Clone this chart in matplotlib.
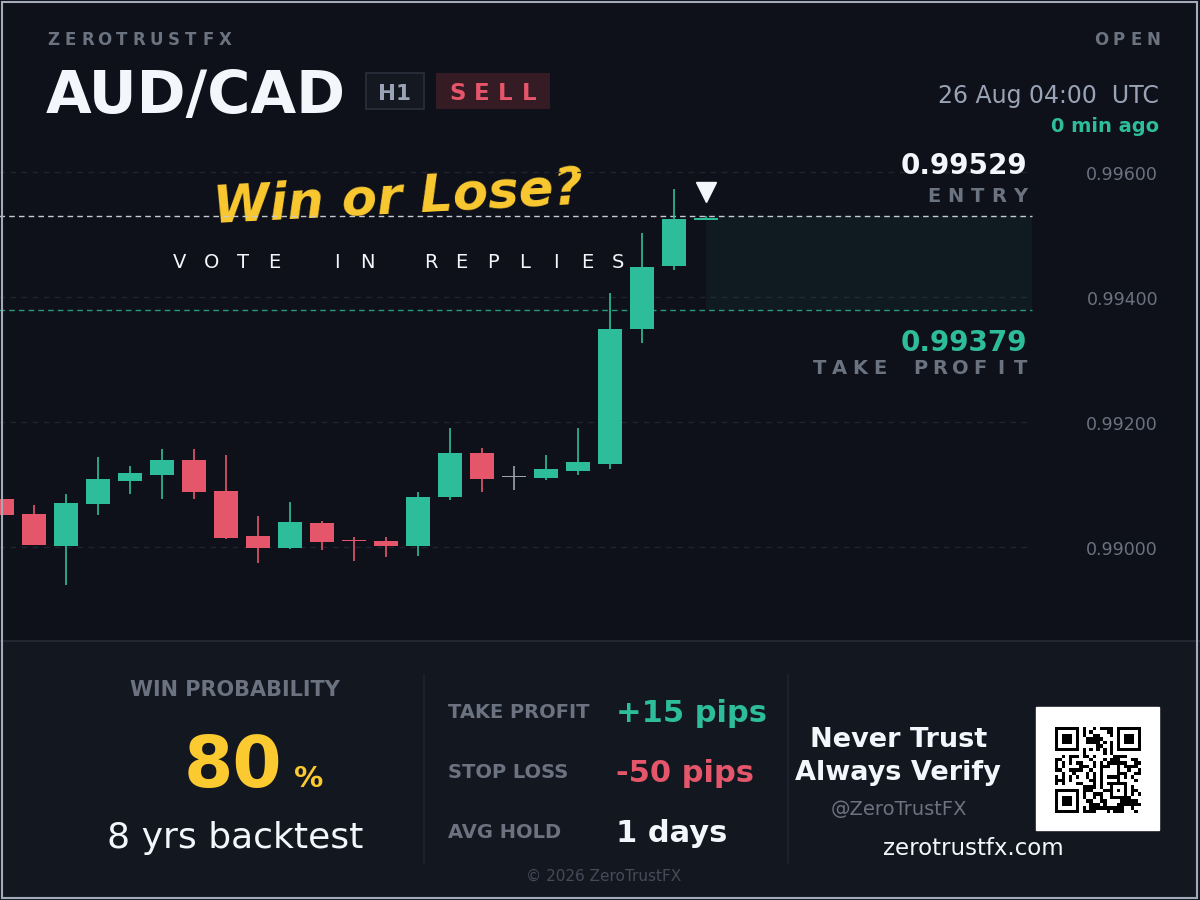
import numpy as np
import matplotlib.pyplot as plt
from matplotlib.patches import Rectangle
from matplotlib.transforms import offset_copy

# AUD/CAD H1 candles, oldest first
opens  = [0.99077, 0.99053, 0.99002, 0.99069, 0.99106, 0.99115, 0.99139, 0.99090,
          0.99018, 0.98998, 0.99038, 0.99010, 0.99010, 0.99002, 0.99080, 0.99150,
          0.99112, 0.99110, 0.99122, 0.99133, 0.99349, 0.99450, 0.99524]
highs  = [0.99077, 0.99067, 0.99085, 0.99144, 0.99130, 0.99157, 0.99157, 0.99147,
          0.99050, 0.99072, 0.99042, 0.99016, 0.99016, 0.99088, 0.99190, 0.99158,
          0.99130, 0.99147, 0.99190, 0.99406, 0.99502, 0.99573, 0.99530]
lows   = [0.99051, 0.99003, 0.98939, 0.99051, 0.99085, 0.99077, 0.99077, 0.99013,
          0.98974, 0.98997, 0.98995, 0.98978, 0.98984, 0.98986, 0.99075, 0.99088,
          0.99091, 0.99107, 0.99115, 0.99125, 0.99326, 0.99443, 0.99524]
closes = [0.99051, 0.99003, 0.99070, 0.99109, 0.99118, 0.99139, 0.99088, 0.99014,
          0.98998, 0.99040, 0.99008, 0.99009, 0.99002, 0.99080, 0.99150, 0.99109,
          0.99112, 0.99125, 0.99136, 0.99349, 0.99448, 0.99525, 0.99525]

entry_price = 0.99529
tp_price = 0.99379
price_ticks = [0.99000, 0.99200, 0.99400, 0.99600]

pair = "AUD/CAD"
timeframe = "H1"
side = "SELL"
stamp = "26 Aug 04:00  UTC"
age = "0 min ago"
win_prob = "80"
backtest = "8 yrs backtest"
stat_labels = ["TAKE PROFIT", "STOP LOSS", "AVG HOLD"]
stat_values = ["+15 pips", "-50 pips", "1 days"]

BG = "#0e1119"
BG2 = "#131720"
TEAL = "#2ebd9b"
RED = "#e5566b"
GREY = "#6b7280"
LIGHT = "#9aa3b5"
WHITE = "#f3f6fb"
YELLOW = "#fbc930"
DOJI = "#9ca3af"

plt.rcParams['font.family'] = ['DejaVu Sans']

fig = plt.figure(figsize=(12, 9), dpi=100, facecolor=BG)

# full-figure axes in pixel coordinates for the card layout
bg = fig.add_axes([0, 0, 1, 1], zorder=0)
bg.set_xlim(0, 1200)
bg.set_ylim(900, 0)
bg.axis("off")


def spaced(ax, x, y, s, step, align="left", **kw):
    # letter-spaced text; x is the centre of the first (or last) glyph
    x0 = x if align == "left" else x - step * (len(s) - 1)
    for k, ch in enumerate(s):
        if ch != " ":
            ax.text(x0 + k * step, y, ch, ha="center", va="baseline", **kw)


# bottom panel
bg.add_patch(Rectangle((0, 641), 1200, 260, color=BG2, zorder=0))
bg.plot([0, 1200], [641, 641], color="#262b36", lw=1.2, zorder=1)
for xd in [424, 788]:
    bg.plot([xd, xd], [675, 863], color="#1f2430", lw=1.2)

# header
spaced(bg, 53, 45, "ZEROTRUSTFX", 17.2, color=GREY, fontsize=12, fontweight="bold")
spaced(bg, 1153, 45, "OPEN", 17.3, align="right", color=GREY, fontsize=12, fontweight="bold")
bg.text(46, 113, pair, color=WHITE, fontsize=42.5, fontweight="bold", va="baseline")
bg.add_patch(Rectangle((366, 73), 58, 36, facecolor="#141820", edgecolor="#2a303c", lw=1.2))
bg.text(395, 100, timeframe, color=LIGHT, fontsize=15.5, fontweight="bold",
        ha="center", va="baseline")
bg.add_patch(Rectangle((436, 73), 114, 36, facecolor="#351b24", edgecolor="none"))
spaced(bg, 458, 100, side, 23.7, color=RED, fontsize=16.5, fontweight="bold")
bg.text(1159, 103, stamp, color=LIGHT, fontsize=17, ha="right", va="baseline")
bg.text(1159, 132, age, color=TEAL, fontsize=14, fontweight="bold", ha="right", va="baseline")

# chart
ax = fig.add_axes([0, 260 / 900, 1, 500 / 900], zorder=1)
ax.patch.set_alpha(0)
for sp in ax.spines.values():
    sp.set_visible(False)
ax.set_xticks([])
ax.set_yticks([])
ax.set_xlim(-2 / 32, 1198 / 32)
ax.set_ylim(0.996 - 468 / 62500, 0.996 + 32 / 62500)

x = np.arange(len(opens))
right_edge = 1030 / 32

ax.hlines(price_ticks, -1, right_edge, colors="#1f2430", lw=1, linestyles=(0, (4, 4)), zorder=1)
for p in price_ticks:
    ax.annotate(f"{p:.5f}", (1158 / 32 - 0.06, p), xytext=(0, -3), textcoords="offset pixels",
                color=GREY, fontsize=12.5, ha="right", va="center")

# trade zone
ax.add_patch(Rectangle((x[-1], tp_price), right_edge - x[-1], entry_price - tp_price,
                       facecolor=TEAL, alpha=0.06, edgecolor="none", zorder=1))
ax.hlines(entry_price, -1, right_edge, colors="#c5cad3", lw=1, linestyles=(0, (4, 3)), zorder=2)
ax.hlines(tp_price, -1, right_edge, colors=TEAL, lw=1, linestyles=(0, (4, 3)), alpha=0.8, zorder=2)

for i in x:
    o, h, l, c = opens[i], highs[i], lows[i], closes[i]
    if c > o:
        col = TEAL
    elif c < o:
        col = RED
    else:
        col = DOJI
    ax.vlines(i, l, h, color=col, lw=1.2, zorder=3)
    body = max(abs(c - o), 0.000022)
    ax.bar(i, body, bottom=min(o, c), width=0.72, color=col, zorder=4)

# sell marker above the live candle
tr = offset_copy(ax.transData, fig=fig, y=24, units="dots")
ax.plot(x[-1], highs[-1], marker="v", markersize=15, color=WHITE, transform=tr, zorder=5,
        linestyle="none")

# entry / target labels
ax.annotate(f"{entry_price:.5f}", (1025 / 32, entry_price), xytext=(0, 42),
            textcoords="offset pixels", color=WHITE, fontsize=20, fontweight="bold",
            ha="right", va="baseline")
ax.annotate(f"{tp_price:.5f}", (1025 / 32, tp_price), xytext=(0, -41),
            textcoords="offset pixels", color=TEAL, fontsize=20, fontweight="bold",
            ha="right", va="baseline")
spaced(bg, 1020.5, 202.5, "ENTRY", 21.6, align="right", color=GREY, fontsize=14,
       fontweight="bold")
spaced(bg, 1020.5, 374, "TAKE PROFIT", 20.1, align="right", color=GREY, fontsize=14,
       fontweight="bold")

# call to action
bg.text(398, 199, "Win or Lose?", color=YELLOW, fontsize=37, fontstyle="italic",
        fontweight="bold", ha="center", va="center", rotation=3, rotation_mode="anchor",
        zorder=3)
spaced(bg, 180, 268, "VOTE IN REPLIES", 31.3, color=WHITE, fontsize=14)

# bottom stats
bg.text(235, 696, "WIN PROBABILITY", color=GREY, fontsize=15, fontweight="bold",
        ha="center", va="baseline")
bg.text(282, 787, win_prob, color=YELLOW, fontsize=51, fontweight="bold", ha="right",
        va="baseline")
bg.text(294, 787, "%", color=YELLOW, fontsize=21, fontweight="bold", va="baseline")
bg.text(235, 848, backtest, color=WHITE, fontsize=26, ha="center", va="baseline")

val_cols = [TEAL, RED, WHITE]
for k, (lab, val) in enumerate(zip(stat_labels, stat_values)):
    yb = 718 + 60 * k
    bg.text(448, yb, lab, color=GREY, fontsize=14, fontweight="bold", va="baseline")
    bg.text(616, yb + 4, val, color=val_cols[k], fontsize=22, fontweight="bold", va="baseline")

bg.text(899, 747, "Never Trust", color=WHITE, fontsize=19.5, fontweight="bold",
        ha="center", va="baseline")
bg.text(898, 780, "Always Verify", color=WHITE, fontsize=19.5, fontweight="bold",
        ha="center", va="baseline")
bg.text(899, 815, "@ZeroTrustFX", color=GREY, fontsize=14, ha="center", va="baseline")
bg.text(973, 855, "zerotrustfx.com", color=WHITE, fontsize=16.5, ha="center", va="baseline")
bg.text(604, 881, "\u00a9 2026 ZeroTrustFX", color="#454b58", fontsize=11,
        ha="center", va="baseline")


# QR-style badge
def qr_matrix(text, n=25):
    m = np.zeros((n, n), dtype=int)
    used = np.zeros((n, n), dtype=bool)
    for r0, c0 in [(0, 0), (0, n - 7), (n - 7, 0)]:
        for r in range(-1, 8):
            for c in range(-1, 8):
                rr, cc = r0 + r, c0 + c
                if 0 <= rr < n and 0 <= cc < n:
                    used[rr, cc] = True
                    ring = max(abs(r - 3), abs(c - 3))
                    m[rr, cc] = 1 if (0 <= r <= 6 and 0 <= c <= 6 and ring != 2) else 0
    for r in range(16, 21):
        for c in range(16, 21):
            used[r, c] = True
            m[r, c] = 1 if max(abs(r - 18), abs(c - 18)) != 1 else 0
    for k in range(8, n - 8):
        used[6, k] = used[k, 6] = True
        m[6, k] = m[k, 6] = 1 - k % 2
    bits = [int(b) for ch in text.encode() for b in format(ch, "08b")]
    k = 0
    for r in range(n):
        for c in range(n):
            if not used[r, c]:
                m[r, c] = bits[k % len(bits)] ^ ((r * c) % 3 == 0)
                k += 1
    return m


bg.add_patch(Rectangle((1036, 707), 123, 123, color="white", zorder=2))
bg.imshow(1 - qr_matrix("https://zerotrustfx.com"), cmap="gray", vmin=0, vmax=1,
          extent=(1055, 1141, 813, 727), interpolation="nearest", aspect="auto", zorder=3)
bg.set_xlim(0, 1200)
bg.set_ylim(900, 0)

# outer frame
fig.add_artist(Rectangle((2 / 1200, 2 / 900), 1195 / 1200, 896 / 900, transform=fig.transFigure,
                         fill=False, edgecolor="#a3abbb", lw=1.5, zorder=10))

fig.savefig("out.png", dpi=100, facecolor=BG)
